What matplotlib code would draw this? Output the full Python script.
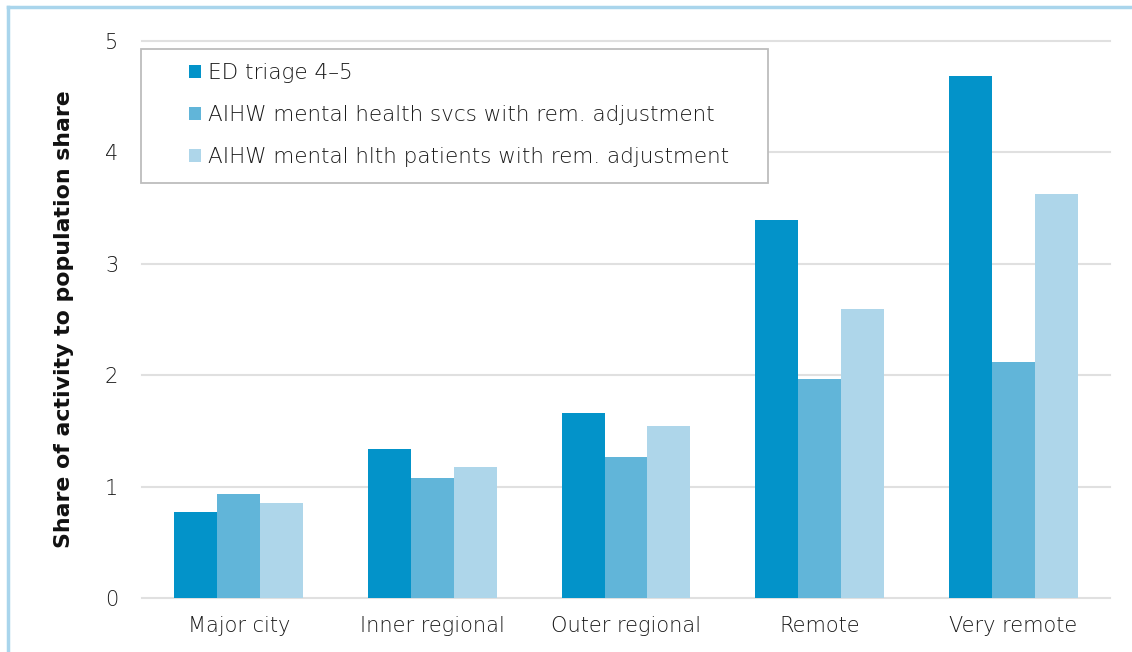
import numpy as np
import matplotlib.pyplot as plt
from matplotlib.patches import Rectangle
from matplotlib.lines import Line2D

plt.rcParams['font.family'] = ['DejaVu Sans']

categories = ['Major city', 'Inner regional', 'Outer regional', 'Remote', 'Very remote']
series_names = ['ED triage 4\u20135',
                'AIHW mental health svcs with rem. adjustment',
                'AIHW mental hlth patients with rem. adjustment']
ed_triage = [0.77, 1.34, 1.66, 3.39, 4.69]
mh_services = [0.93, 1.08, 1.27, 1.97, 2.12]
mh_patients = [0.85, 1.18, 1.54, 2.59, 3.63]
colors = ['#0393c9', '#61b5d9', '#aed6ea']

fig = plt.figure(figsize=(11.32, 6.52), dpi=100)
ax = fig.add_axes([0.1254, 0.0828, 0.8552, 0.8543])

x = np.arange(len(categories))
w = 0.222
for i, (vals, name) in enumerate(zip([ed_triage, mh_services, mh_patients], series_names)):
    ax.bar(x + (i - 1) * w, vals, w, color=colors[i], label=name, zorder=3)

ax.set_xlim(-0.5, len(categories) - 0.5)
ax.set_ylim(0, 5)
ax.set_yticks(range(6))
ax.grid(axis='y', color='#e0e0e0', linewidth=1.5, zorder=0)
for gl in ax.get_ygridlines():
    gl.set_clip_on(False)
for s in ax.spines.values():
    s.set_visible(False)
ax.tick_params(axis='both', length=0, labelsize=15, colors='#1a1a1a')
ax.tick_params(axis='x', pad=13)
ax.tick_params(axis='y', pad=17)
ax.set_xticks(x)
ax.set_xticklabels(categories)
for lbl in ax.get_xticklabels() + ax.get_yticklabels():
    lbl.set_fontweight('light')
ax.set_ylabel('Share of activity to population share', fontsize=15.8,
              fontweight='bold', labelpad=22, color='#111111')

# legend box
ax.add_patch(Rectangle((-0.001, 0.745), 0.648, 0.2406, transform=ax.transAxes,
                       facecolor='white', edgecolor='#bdbdbd', linewidth=1.3,
                       zorder=4, clip_on=False))
leg = ax.legend(loc='upper left', bbox_to_anchor=(0.049, 0.96), frameon=False,
                fontsize=15.5, handlelength=0.56, handleheight=0.56,
                handletextpad=0.3, labelspacing=1.02, borderpad=0,
                borderaxespad=0)
leg.set_zorder(5)
for t in leg.get_texts():
    t.set_color('#1a1a1a')
    t.set_fontweight('light')

# light blue border on the figure
fig.add_artist(Line2D([0.007, 0.007], [0, 0.989], color='#a9d5ec', linewidth=2.5))
fig.add_artist(Line2D([0.007, 1], [0.989, 0.989], color='#a9d5ec', linewidth=2.5))

fig.savefig('out.png', dpi=100)
